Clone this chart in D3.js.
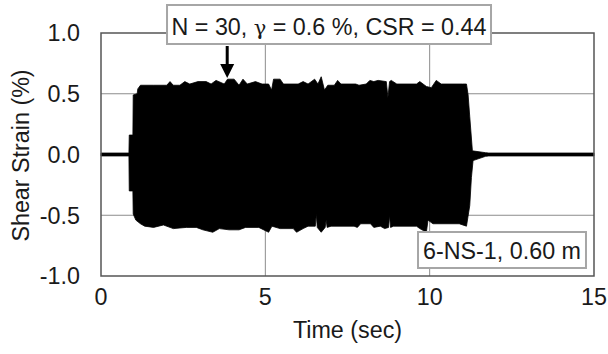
<!DOCTYPE html>
<html>
<head>
<meta charset="utf-8">
<script src="https://cdn.jsdelivr.net/npm/d3@7"></script>
<style>
  body { margin: 0; background: #fff; }
  text { font-family: "Liberation Sans", Arial, sans-serif; fill: #1a1a1a; }
</style>
</head>
<body>
<div id="chart"></div>
<script>
// upper / lower envelope of the strain record
const upperTime = [0, 0.85, 0.86, 0.97, 0.98, 1.1, 1.12, 1.2, 1.6, 2.0, 2.1, 2.2, 2.4, 2.55, 2.7, 2.95, 3.2, 3.35, 3.5, 3.75, 3.85, 4.05, 4.2, 4.32, 4.45, 4.7, 4.9, 5.1, 5.19, 5.25, 5.45, 5.55, 6.0, 6.15, 6.3, 6.5, 6.6, 6.7, 6.8, 6.9, 7.1, 7.2, 7.3, 7.75, 7.85, 8.07, 8.18, 8.3, 8.43, 8.68, 8.73, 8.78, 8.83, 9.0, 9.6, 9.7, 9.9, 10.05, 10.2, 10.35, 11.0, 11.12, 11.17, 11.22, 11.3, 11.7, 11.8, 15];
const upperStrain = [0.012, 0.012, 0.16, 0.16, 0.49, 0.5, 0.54, 0.57, 0.57, 0.57, 0.6, 0.57, 0.57, 0.6, 0.58, 0.6, 0.6, 0.58, 0.61, 0.58, 0.62, 0.62, 0.57, 0.62, 0.58, 0.6, 0.58, 0.58, 0.53, 0.62, 0.62, 0.58, 0.58, 0.6, 0.58, 0.62, 0.58, 0.64, 0.53, 0.57, 0.57, 0.61, 0.58, 0.58, 0.57, 0.58, 0.61, 0.6, 0.61, 0.6, 0.47, 0.6, 0.61, 0.58, 0.58, 0.6, 0.56, 0.55, 0.61, 0.58, 0.58, 0.58, 0.49, 0.31, 0.03, 0.015, 0.012, 0.012];
const lowerTime = [0, 0.85, 0.86, 0.97, 0.98, 1.06, 1.2, 1.33, 1.6, 1.9, 2.2, 2.6, 2.9, 3.1, 3.4, 3.6, 3.9, 4.2, 4.4, 4.8, 5.1, 5.2, 5.45, 5.85, 5.95, 6.15, 6.3, 6.52, 6.55, 6.58, 6.7, 6.82, 6.85, 6.88, 7.0, 7.7, 7.8, 7.9, 8.2, 8.3, 8.5, 8.63, 8.75, 8.78, 8.81, 8.9, 9.6, 9.7, 9.9, 9.95, 10.1, 10.9, 11.12, 11.22, 11.27, 11.32, 11.7, 11.8, 15];
const lowerStrain = [-0.012, -0.012, -0.3, -0.3, -0.49, -0.54, -0.57, -0.59, -0.6, -0.58, -0.61, -0.6, -0.6, -0.62, -0.64, -0.61, -0.62, -0.62, -0.6, -0.6, -0.64, -0.59, -0.61, -0.61, -0.64, -0.61, -0.59, -0.59, -0.49, -0.6, -0.64, -0.6, -0.54, -0.6, -0.59, -0.59, -0.6, -0.57, -0.57, -0.6, -0.59, -0.61, -0.6, -0.5, -0.6, -0.59, -0.59, -0.61, -0.64, -0.54, -0.57, -0.57, -0.59, -0.42, -0.19, -0.05, -0.015, -0.012, -0.012];

const xTicks = [0, 5, 10, 15];
const yTicks = [-1.0, -0.5, 0.0, 0.5, 1.0];
const gridX = [5, 10];
const gridY = [-0.5, 0.5];

const noteParts = ['N = 30, ', '\u03b3', ' = 0.6 %, CSR = 0.44'];
const arrowTime = 3.84;
const arrowTip = 0.63;
const labelText = '6-NS-1, 0.60 m';

const width = 608, height = 354;
const margin = { top: 33, right: 14, bottom: 78, left: 101 };
const innerW = width - margin.left - margin.right;
const innerH = height - margin.top - margin.bottom;
const fs = '23.3px';

const svg = d3.select('#chart').append('svg')
    .attr('width', width)
    .attr('height', height);

const g = svg.append('g')
    .attr('transform', `translate(${margin.left},${margin.top})`);

const x = d3.scaleLinear().domain([0, 15]).range([0, innerW]);
const y = d3.scaleLinear().domain([-1, 1]).range([innerH, 0]);

// grid
g.selectAll('.gx').data(gridX).enter().append('line')
    .attr('x1', d => x(d)).attr('x2', d => x(d))
    .attr('y1', 0).attr('y2', innerH)
    .attr('stroke', '#8c8c8c').attr('stroke-width', 1);
g.selectAll('.gy').data(gridY).enter().append('line')
    .attr('x1', 0).attr('x2', innerW)
    .attr('y1', d => y(d)).attr('y2', d => y(d))
    .attr('stroke', '#8c8c8c').attr('stroke-width', 1);

// envelope of the record
const pts = upperTime.map((t, i) => [t, upperStrain[i]])
    .concat(lowerTime.map((t, i) => [t, lowerStrain[i]]).reverse());
const line = d3.line()
    .x(d => x(d[0]))
    .y(d => y(d[1]))
    .curve(d3.curveLinearClosed);
g.append('path')
    .attr('d', line(pts))
    .attr('fill', '#000')
    .attr('stroke', '#000')
    .attr('stroke-width', 0.8);

// frame
g.append('rect')
    .attr('width', innerW).attr('height', innerH)
    .attr('fill', 'none')
    .attr('stroke', '#555').attr('stroke-width', 1.5);

// axes labels
g.selectAll('.xt').data(xTicks).enter().append('text')
    .attr('x', d => x(d)).attr('y', innerH + 29)
    .attr('text-anchor', 'middle')
    .attr('font-size', fs)
    .text(d => d);
g.selectAll('.yt').data(yTicks).enter().append('text')
    .attr('x', -21).attr('y', d => y(d) + 8.3)
    .attr('text-anchor', 'end')
    .attr('font-size', fs)
    .text(d => d.toFixed(1));

g.append('text')
    .attr('x', innerW / 2).attr('y', innerH + 62)
    .attr('text-anchor', 'middle')
    .attr('font-size', fs)
    .text('Time (sec)');
g.append('text')
    .attr('transform', 'rotate(-90)')
    .attr('x', -(y(0)) - 1).attr('y', -72)
    .attr('text-anchor', 'middle')
    .attr('font-size', fs)
    .text('Shear Strain (%)');

// top annotation
const note = svg.append('g');
const noteT = note.append('text')
    .attr('x', 329).attr('y', 35)
    .attr('text-anchor', 'middle')
    .attr('font-size', fs);
noteT.selectAll('tspan').data(noteParts).enter().append('tspan')
    .style('font-family', (d, i) => i === 1 ? '"DejaVu Serif", "Liberation Serif", serif' : null)
    .attr('font-size', (d, i) => i === 1 ? '21px' : null)
    .text(d => d);
const nb = noteT.node().getBBox();
note.insert('rect', 'text')
    .attr('x', nb.x - 4.5).attr('y', 5)
    .attr('width', nb.width + 9).attr('height', 39)
    .attr('fill', '#fff')
    .attr('stroke', '#a6a6a6').attr('stroke-width', 2);

// arrow
const ax = margin.left + x(arrowTime);
const tipY = margin.top + y(arrowTip);
svg.append('line')
    .attr('x1', ax).attr('x2', ax)
    .attr('y1', 46).attr('y2', tipY - 12)
    .attr('stroke', '#000').attr('stroke-width', 3);
svg.append('path')
    .attr('d', `M${ax - 7},${tipY - 14}L${ax + 7},${tipY - 14}L${ax},${tipY}Z`)
    .attr('fill', '#000');

// specimen label
const lab = svg.append('g');
const labT = lab.append('text')
    .attr('x', 502).attr('y', 259)
    .attr('text-anchor', 'middle')
    .attr('font-size', fs)
    .text(labelText);
const lb = labT.node().getBBox();
lab.insert('rect', 'text')
    .attr('x', lb.x - 5).attr('y', 232)
    .attr('width', lb.width + 10).attr('height', 36)
    .attr('fill', '#fff')
    .attr('stroke', '#a6a6a6').attr('stroke-width', 2);
</script>
</body>
</html>
